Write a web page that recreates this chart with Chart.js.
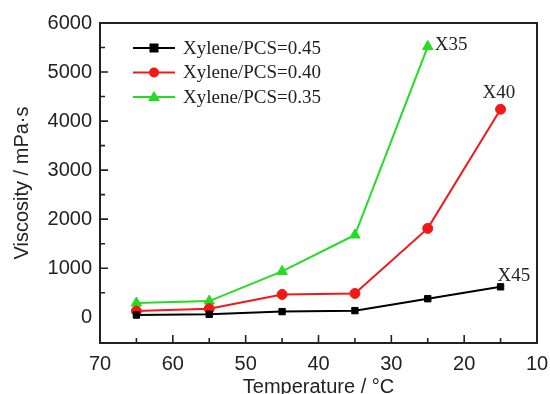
<!DOCTYPE html>
<html>
<head>
<meta charset="utf-8">
<script src="https://cdn.jsdelivr.net/npm/chart.js@4/dist/chart.umd.min.js"></script>
<style>
  html, body { margin: 0; padding: 0; background: #fff; }
  #wrap { position: relative; width: 550px; height: 394px; }
</style>
</head>
<body>
<div id="wrap"><canvas id="chart" width="550" height="394"></canvas></div>
<script>
// temperatures (°C)
const temps = [65, 55, 45, 35, 25, 15];
// viscosity, mPa·s
const x45 = [45, 60, 115, 135, 378, 620];
const x40 = [127, 175, 465, 485, 1812, 4240];
const x35 = [290, 330, 935, 1677, 5520];
const seriesNames = ['Xylene/PCS=0.45', 'Xylene/PCS=0.40', 'Xylene/PCS=0.35'];
const endLabels = ['X45', 'X40', 'X35'];
const xTicks = [70, 60, 50, 40, 30, 20, 10];
const yTicks = [0, 1000, 2000, 3000, 4000, 5000, 6000];

const toPts = (vals) => vals.map((v, i) => ({ x: temps[i], y: v }));

const serif = '"Liberation Serif", "Times New Roman", serif';
const sans = '"Liberation Sans", Arial, sans-serif';

// frame, inward ticks, legend and end labels
const decor = {
  id: 'decor',
  afterDraw(chart) {
    const { ctx, chartArea: a, scales } = chart;
    const xs = scales.x, ys = scales.y;
    ctx.save();
    ctx.strokeStyle = '#222';
    ctx.lineWidth = 2;
    ctx.strokeRect(a.left, a.top, a.right - a.left, a.bottom - a.top);

    ctx.lineWidth = 1.6;
    ctx.beginPath();
    for (let t = 15; t <= 65; t += 5) {
      const px = xs.getPixelForValue(t);
      const len = t % 10 === 0 ? 8 : 5;
      ctx.moveTo(px, a.bottom);
      ctx.lineTo(px, a.bottom - len);
    }
    for (let v = 500; v <= 5500; v += 500) {
      const py = ys.getPixelForValue(v);
      const len = v % 1000 === 0 ? 8 : 5;
      ctx.moveTo(a.left, py);
      ctx.lineTo(a.left + len, py);
    }
    ctx.stroke();

    // legend
    ctx.font = '19px ' + serif;
    ctx.textBaseline = 'middle';
    chart.data.datasets.forEach((ds, i) => {
      const y = a.top + 25 + i * 24.5;
      const x0 = a.left + 33, x1 = a.left + 75;
      ctx.strokeStyle = ds.borderColor;
      ctx.lineWidth = 2;
      ctx.beginPath();
      ctx.moveTo(x0, y);
      ctx.lineTo(x1, y);
      ctx.stroke();
      ctx.fillStyle = ds.pointBackgroundColor;
      const mx = (x0 + x1) / 2;
      if (ds.pointStyle === 'rect') {
        ctx.fillRect(mx - 4.5, y - 4.5, 9, 9);
      } else if (ds.pointStyle === 'circle') {
        ctx.beginPath(); ctx.arc(mx, y, 5, 0, Math.PI * 2); ctx.fill();
      } else {
        ctx.beginPath();
        ctx.moveTo(mx, y - 6); ctx.lineTo(mx + 6, y + 4); ctx.lineTo(mx - 6, y + 4);
        ctx.closePath(); ctx.fill();
      }
      ctx.fillStyle = '#222';
      ctx.textAlign = 'left';
      ctx.fillText(seriesNames[i], a.left + 83, y + 1);
    });

    // end labels
    ctx.font = '19px ' + serif;
    ctx.fillStyle = '#222';
    const offs = [[-3, -11], [-18, -16], [7, -2]];
    chart.data.datasets.forEach((ds, i) => {
      const meta = chart.getDatasetMeta(i);
      const last = meta.data[meta.data.length - 1];
      ctx.textAlign = 'left';
      ctx.fillText(endLabels[i], last.x + offs[i][0], last.y + offs[i][1]);
    });
    ctx.restore();
  }
};

new Chart(document.getElementById('chart'), {
  type: 'line',
  data: {
    datasets: [
      { label: seriesNames[0], data: toPts(x45), borderColor: '#000', pointBackgroundColor: '#000', pointBorderColor: '#000', pointStyle: 'rect', pointRadius: 4.5 },
      { label: seriesNames[1], data: toPts(x40), borderColor: '#f21818', pointBackgroundColor: '#f21818', pointBorderColor: '#f21818', pointStyle: 'circle', pointRadius: 5 },
      { label: seriesNames[2], data: toPts(x35), borderColor: '#22dd22', pointBackgroundColor: '#22dd22', pointBorderColor: '#22dd22', pointStyle: 'triangle', pointRadius: 6 }
    ]
  },
  options: {
    responsive: false,
    animation: false,
    devicePixelRatio: 1,
    layout: { padding: { top: 23, right: 13, left: 10, bottom: 0 } },
    elements: { line: { borderWidth: 2, tension: 0 } },
    plugins: { legend: { display: false }, tooltip: { enabled: false } },
    scales: {
      x: {
        type: 'linear',
        reverse: true,
        min: 10,
        max: 70,
        afterBuildTicks: (s) => { s.ticks = xTicks.map((v) => ({ value: v })); },
        afterFit: (s) => { s.height = 51; s.paddingLeft = 0; s.paddingRight = 0; },
        grid: { display: false, drawTicks: false },
        border: { display: false },
        ticks: { font: { family: sans, size: 20 }, color: '#222', padding: 9, maxRotation: 0, autoSkip: false, callback: (v) => String(v) },
        title: { display: true, text: 'Temperature / °C', font: { family: sans, size: 20 }, color: '#222', padding: { top: 0, bottom: -5 } }
      },
      y: {
        type: 'linear',
        min: -525,
        max: 6000,
        afterBuildTicks: (s) => { s.ticks = yTicks.map((v) => ({ value: v })); },
        afterFit: (s) => { s.width = 90; },
        grid: { display: false, drawTicks: false },
        border: { display: false },
        ticks: { font: { family: sans, size: 20 }, color: '#222', padding: 8, autoSkip: false, callback: (v) => String(v) },
        title: { display: true, text: 'Viscosity / mPa·s', font: { family: sans, size: 20 }, color: '#222', padding: { top: 0, bottom: 0 } }
      }
    }
  },
  plugins: [decor]
});
</script>
</body>
</html>
